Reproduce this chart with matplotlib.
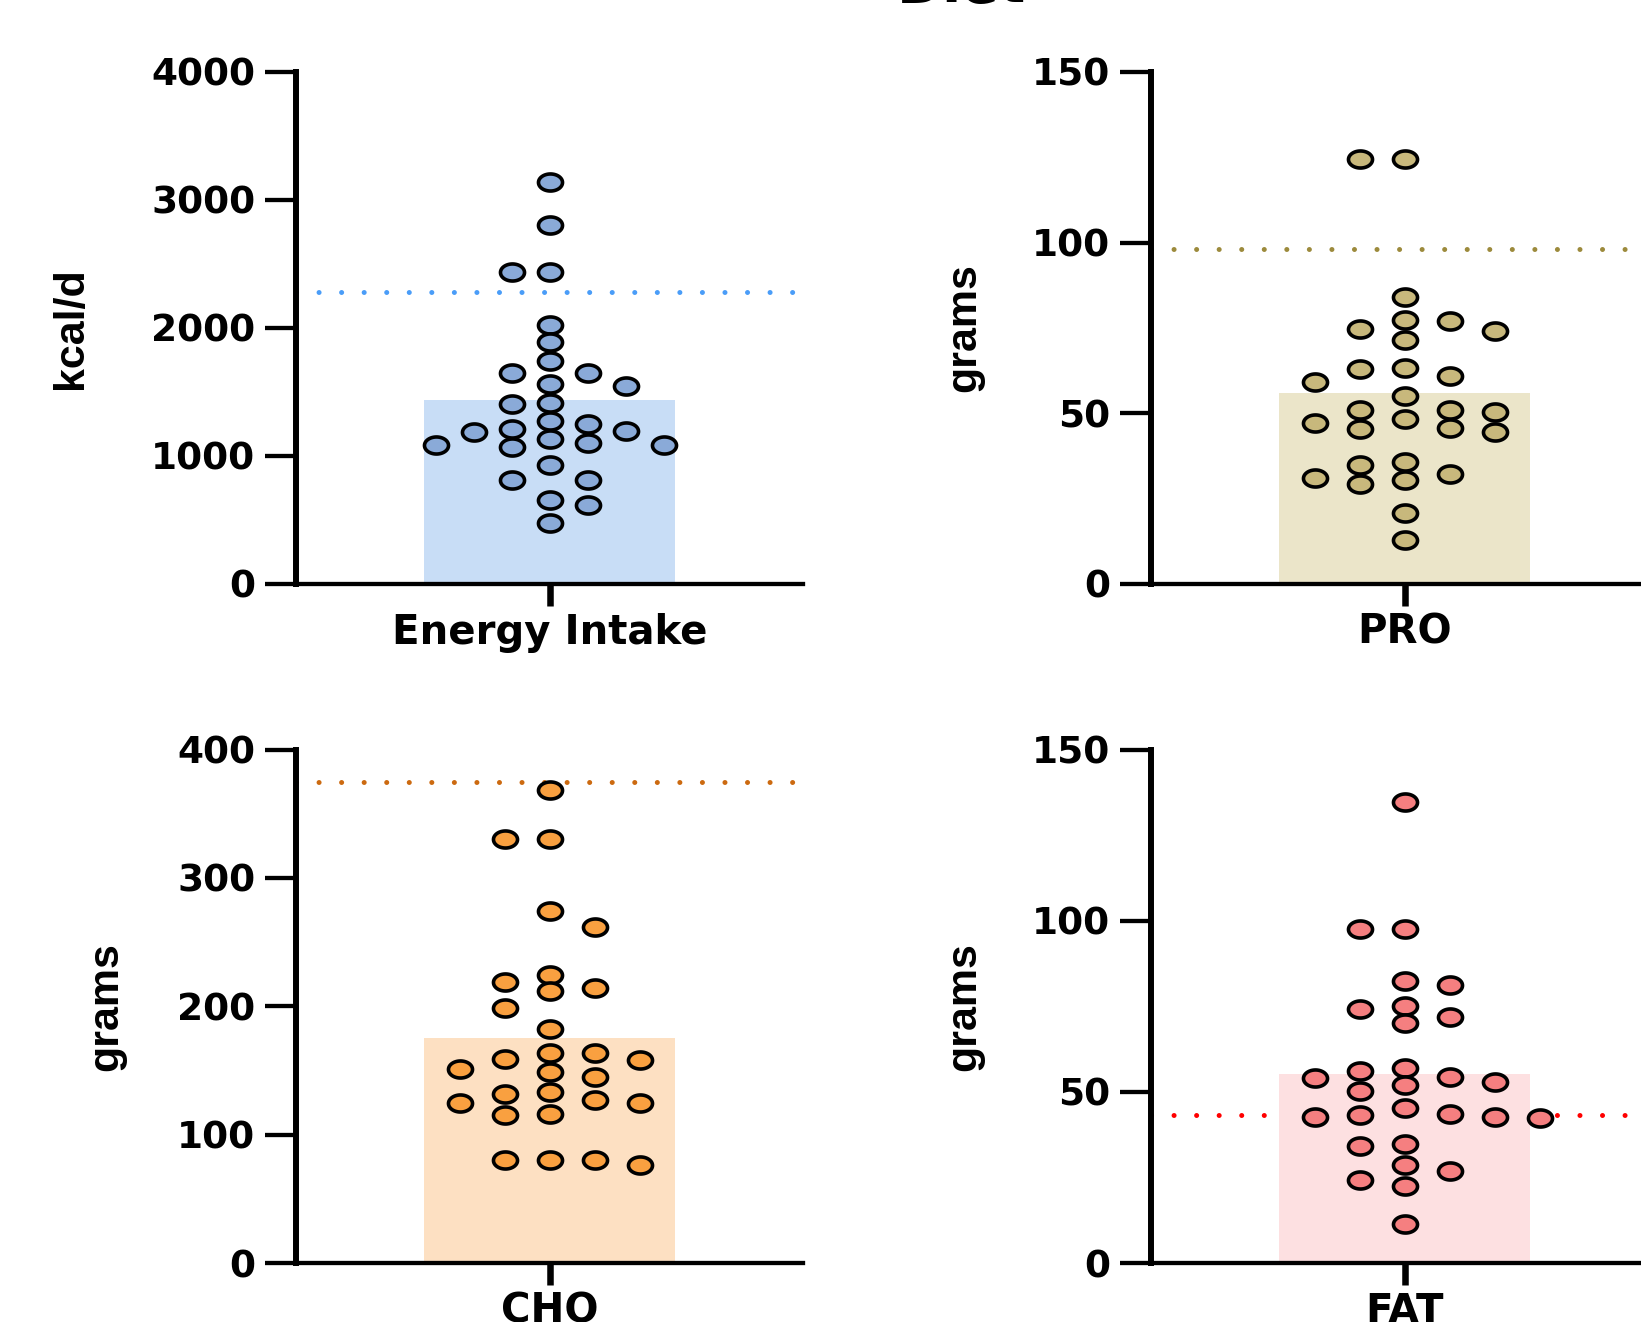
import numpy as np
import matplotlib
matplotlib.use("Agg")
import matplotlib.pyplot as plt
from matplotlib.path import Path

# --- data ----------------------------------------------------------------
categories = ["Energy Intake", "PRO", "CHO", "FAT"]
ylabels = ["kcal/d", "grams", "grams", "grams"]
ymax = [4000, 150, 400, 150]
yticks = [[0, 1000, 2000, 3000, 4000], [0, 50, 100, 150],
          [0, 100, 200, 300, 400], [0, 50, 100, 150]]

energy_vals = [3144, 2805, 2440, 2440, 2021, 1890, 1745, 1646, 1646, 1564,
               1544, 1406, 1416, 1274, 1248, 1208, 1192, 1185, 1133, 1103,
               1086, 1086, 1070, 928, 813, 813, 655, 616, 474]
pro_vals = [124.4, 124.4, 84.2, 77.3, 77.0, 74.2, 74.6, 71.6, 63.4, 63.0,
            60.9, 59.2, 55.1, 51.0, 50.5, 50.9, 48.3, 47.3, 45.7, 45.5,
            44.4, 35.7, 35.0, 32.3, 30.4, 31.1, 29.2, 20.8, 12.8]
cho_vals = [368.4, 329.9, 329.9, 274.3, 261.8, 224.7, 218.8, 214.5, 211.5,
            199.0, 182.6, 163.2, 163.5, 158.9, 157.9, 151.0, 148.4, 145.1,
            133.2, 131.6, 126.6, 125.0, 124.3, 115.5, 115.8, 79.9, 79.9,
            79.9, 76.3]
fat_vals = [134.8, 97.7, 97.7, 82.4, 81.2, 75.2, 74.3, 71.9, 70.1, 57.1,
            56.2, 54.4, 53.9, 52.9, 51.9, 50.3, 45.4, 43.5, 43.3, 42.7,
            42.6, 42.3, 34.9, 34.3, 28.7, 26.9, 24.2, 22.5, 11.5]

# recommended intake (dotted lines)
ref_lines = [2285, 98, 375, 43.2]

series = [energy_vals, pro_vals, cho_vals, fat_vals]

# --- style ---------------------------------------------------------------
dot_colors = ["#8aaad8", "#c8b87c", "#f9a040", "#f57f80"]
bar_colors = ["#c8ddf6", "#ebe5c9", "#fde0c2", "#fde0e1"]
line_colors = ["#4a9df8", "#9c8a3c", "#cc6a10", "#ff0000"]
step_px = [19, 22.5, 22.5, 22.5]   # half spacing of the swarm columns

W, H = 1641, 1322
DPI = 100
ax_w_px = 507
# axes boxes in pixels: left, top, bottom
boxes = [(296, 72, 584), (1151, 72, 584), (296, 749.5, 1263), (1151, 749.5, 1263)]

# ellipse marker (picture is stretched sideways)
t = np.linspace(0, 2 * np.pi, 60)
ell = Path(np.column_stack([1.41 * np.cos(t), np.sin(t)]), closed=True)


def swarm(vals, top, ax_h, step, h_sep, px_per_x):
    vals = np.asarray(vals, float)
    ypx = vals / top * ax_h
    order = np.argsort(-vals, kind="stable")
    placed = []
    offs = np.zeros(len(vals))
    flip = True
    for i in order:
        chosen = 0
        for k in range(0, 15):
            cands = [0] if k == 0 else ([-k, k] if flip else [k, -k])
            found = False
            for c in cands:
                x = c * step
                ok = all(abs(x - px) >= 2 * step - 0.1 or abs(ypx[i] - py) >= h_sep
                         for px, py in placed)
                if ok:
                    chosen = c
                    found = True
                    break
            if found:
                break
        if chosen != 0:
            flip = not flip
        placed.append((chosen * step, ypx[i]))
        offs[i] = chosen * step / px_per_x
    return offs


plt.rcParams["font.family"] = "DejaVu Sans"
fig = plt.figure(figsize=(W / DPI, H / DPI), dpi=DPI)

fig.text(961 / W, 1 - 2 / H, "Diet", ha="center", va="baseline",
         fontsize=40, fontweight="bold")

label_x = [-0.444, -0.369, -0.375, -0.369]

for i, vals in enumerate(series):
    left, top, bottom = boxes[i]
    ax = fig.add_axes([left / W, 1 - bottom / H, ax_w_px / W, (bottom - top) / H])
    ax_h = bottom - top
    px_per_x = ax_w_px / 2.0

    ax.axhline(ref_lines[i], color=line_colors[i], lw=3.6, linestyle=(0, (0.01, 4.5)),
               dash_capstyle="round", zorder=1.5)
    ax.bar(0, np.mean(vals), width=0.99, color=bar_colors[i], zorder=2)

    xs = swarm(vals, ymax[i], ax_h, step_px[i], 16.5, px_per_x)
    ax.scatter(xs, vals, s=300, marker=ell, facecolor=dot_colors[i],
               edgecolor="black", linewidth=2.6, zorder=3)

    ax.set_xlim(-1, 1)
    ax.set_ylim(0, ymax[i])
    ax.set_yticks(yticks[i])
    ax.set_xticks([0])
    ax.set_xticklabels([categories[i]])

    for s in ["top", "right"]:
        ax.spines[s].set_visible(False)
    ax.spines["left"].set_linewidth(4.3)
    ax.spines["bottom"].set_linewidth(3.1)
    ax.tick_params(axis="y", length=22.3, width=3.1, pad=7, labelsize=27)
    ax.tick_params(axis="x", length=15.8, width=4.7, pad=5, labelsize=29)
    for lab in ax.get_xticklabels() + ax.get_yticklabels():
        lab.set_fontweight("bold")

    ax.set_ylabel(ylabels[i], fontsize=31, fontweight="bold",
                  family="Liberation Sans", va="center")
    ax.yaxis.set_label_coords(label_x[i], 0.5)

fig.savefig("out.png", dpi=DPI)
